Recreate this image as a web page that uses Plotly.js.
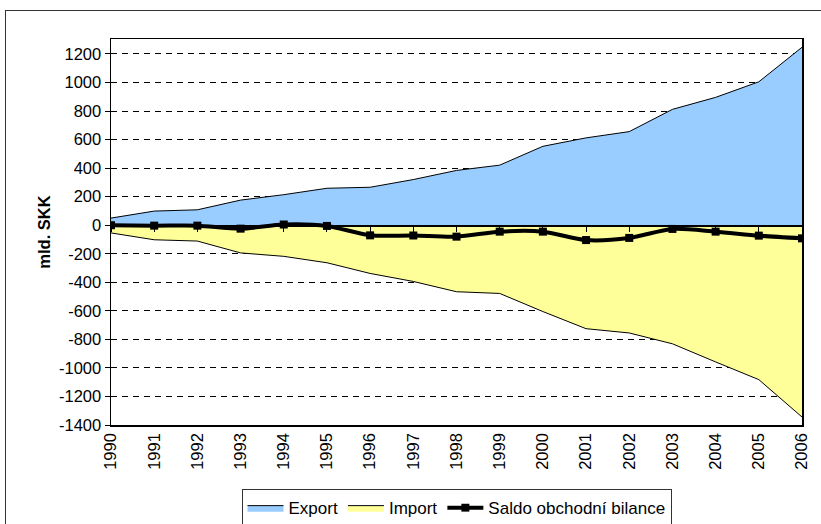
<!DOCTYPE html>
<html><head><meta charset="utf-8">
<script src="https://cdn.plot.ly/plotly-3.0.1.min.js"></script>
<style>
html,body{margin:0;padding:0;background:#fff;overflow:hidden}
#chart{position:absolute;left:0;top:0;width:821px;height:524px}
#frame{position:absolute;left:5px;top:10px;width:830px;height:540px;border:1.5px solid #333;pointer-events:none}
</style></head>
<body>
<div id="chart"></div>
<div id="frame"></div>
<script>
const years = [1990,1991,1992,1993,1994,1995,1996,1997,1998,1999,2000,2001,2002,2003,2004,2005,2006];
const exportVals = [50,99,108,176,214,259,266,320,384,421,553,612,656,812,896,1005,1247];
const importVals = [-54,-102,-111,-194,-218,-263,-338,-394,-466,-478,-605,-725,-755,-831,-958,-1082,-1344];
const saldoVals = [0,-3,-3,-24,5,-5,-71,-72,-80,-45,-45,-104,-89,-26,-45,-73,-92];
const yTicks = [-1400,-1200,-1000,-800,-600,-400,-200,0,200,400,600,800,1000,1200];
const yMin = -1400, yMax = 1305;

const font = 'Liberation Sans, Arial, sans-serif';
const traces = [
  {x: years, y: exportVals, name: 'Export', type: 'scatter', mode: 'lines',
   fill: 'tozeroy', fillcolor: '#99CCFF', line: {color: '#000', width: 1}},
  {x: years, y: importVals, name: 'Import', type: 'scatter', mode: 'lines',
   fill: 'tozeroy', fillcolor: '#FFFF99', line: {color: '#000', width: 1}},
  {x: years, y: saldoVals, name: 'Saldo obchodní bilance', type: 'scatter', mode: 'lines+markers',
   xaxis: 'x2',
   line: {color: '#000', width: 4, shape: 'spline', smoothing: 0.8},
   marker: {symbol: 'square', size: 8, color: '#000'}}
];
const zeroFrac = (0 - yMin) / (yMax - yMin);
const layout = {
  width: 821, height: 524,
  margin: {l: 111, r: 19, t: 39, b: 99, autoexpand: false},
  paper_bgcolor: '#fff', plot_bgcolor: '#fff',
  showlegend: true,
  font: {family: font, size: 16.5, color: '#000'},
  xaxis: {
    range: [1990, 2006], tickmode: 'array', tickvals: years, ticktext: years.map(String),
    tickangle: -90, tickfont: {size: 16.5}, showgrid: false, zeroline: false, automargin: false,
    showline: true, linecolor: '#000', linewidth: 1.5, mirror: true, ticks: '', fixedrange: true
  },
  xaxis2: {
    overlaying: 'x', anchor: 'free', position: zeroFrac,
    range: [1990, 2006], tickmode: 'array', tickvals: years, showticklabels: false,
    ticks: 'outside', ticklen: 5, tickcolor: '#000', tickwidth: 1,
    showline: true, linecolor: '#000', linewidth: 1.5, showgrid: false, zeroline: false
  },
  yaxis: {
    range: [yMin, yMax], tickmode: 'array', tickvals: yTicks, ticktext: yTicks.map(String),
    showgrid: true, gridcolor: '#000', griddash: '6px,5px', gridwidth: 1, automargin: false,
    zeroline: false, ticks: 'outside', ticklen: 5, tickcolor: '#000',
    showline: true, linecolor: '#000', linewidth: 1.5, mirror: true,
    tickfont: {size: 16.5},
    title: {text: 'mld. SKK', font: {size: 16.5, family: font, weight: 'bold'}, standoff: 4}
  },
  legend: {
    orientation: 'h', x: 0.5, xanchor: 'center', y: -0.166, yanchor: 'top',
    bordercolor: '#333', borderwidth: 1, bgcolor: '#fff',
    font: {size: 17, family: font}, itemwidth: 36, tracegroupgap: 0
  }
};
Plotly.newPlot('chart', traces, layout, {staticPlot: true});
</script>
</body></html>
